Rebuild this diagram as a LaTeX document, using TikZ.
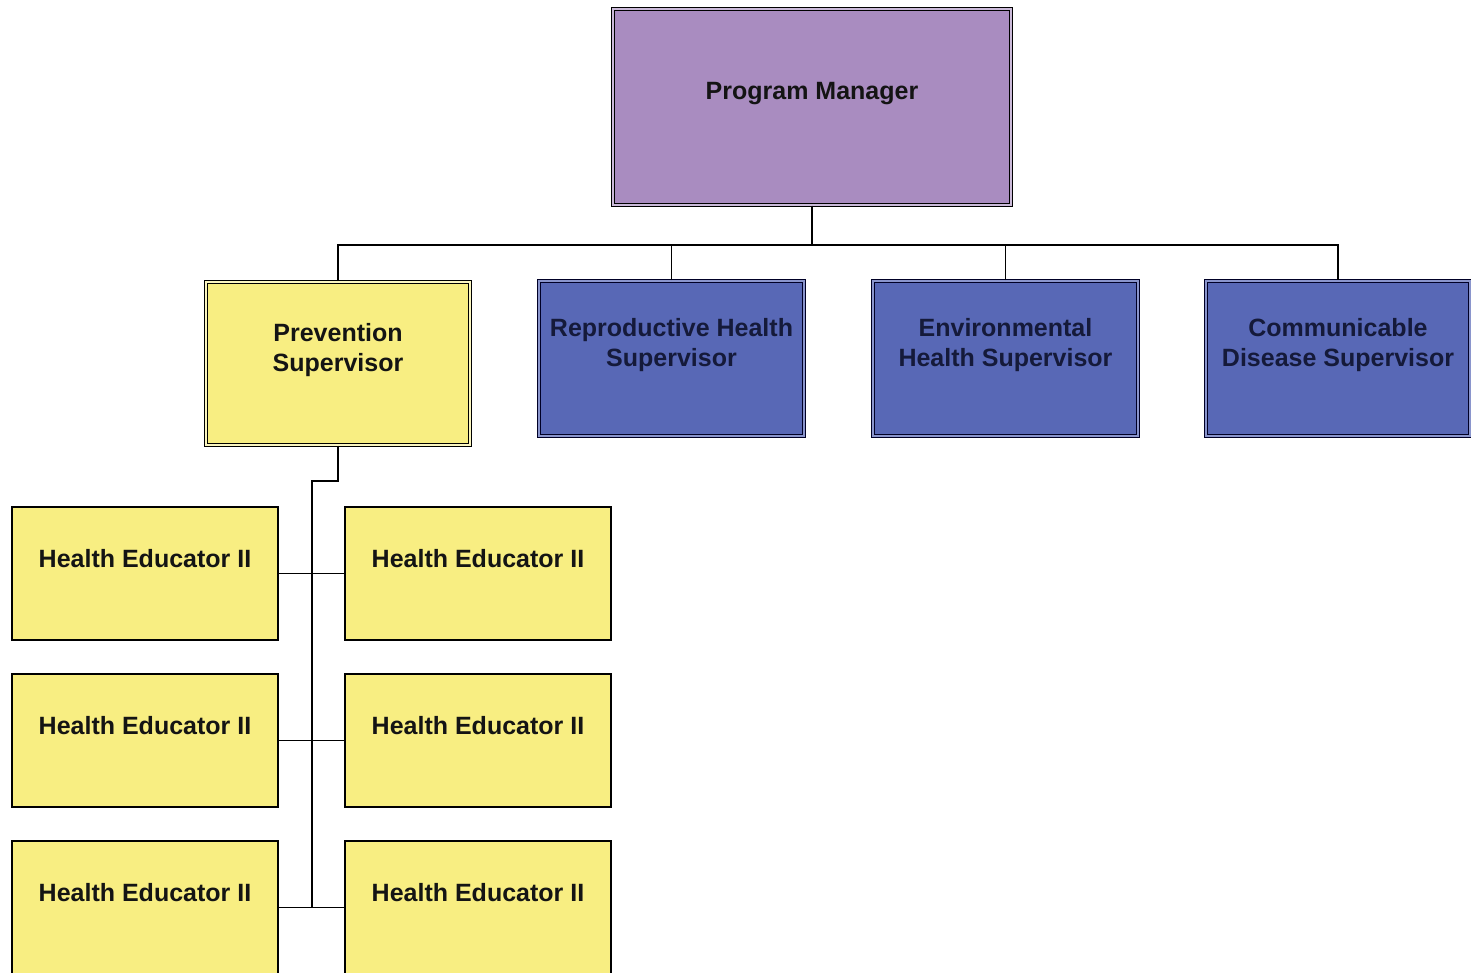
\documentclass[tikz,border=0pt]{standalone}
\usepackage{fontspec}
\setmainfont{Liberation Sans}
\definecolor{pmfill}{HTML}{A98CC0}
\definecolor{yfill}{HTML}{F8EE82}
\definecolor{bfill}{HTML}{5868B6}
\definecolor{txt}{HTML}{141414}
\definecolor{btxt}{HTML}{151A3A}
\tikzset{
  box/.style={rectangle, inner sep=0pt, draw=black, line width=1.6pt},
  dbox/.style={box, double, double distance=1.6pt, line width=1.5pt},
  lbl/.style={anchor=base, inner sep=0pt, font=\bfseries\fontsize{25}{30}\selectfont, text=txt},
  conn/.style={draw=black, line width=1.8pt},
}
\begin{document}
\begin{tikzpicture}[x=1pt,y=-1pt]
\useasboundingbox (0,0) rectangle (1471,973);
\fill[white] (0,0) rectangle (1471,973);
% top
\node[dbox, fill=pmfill, double=pmfill!60!white, minimum width=398pt, minimum height=196pt] (pm) at (812,107) {};
\node[lbl] at (812,100) {Program Manager};
% supervisors
\node[dbox, fill=yfill, double=yfill!50!white, minimum width=264pt, minimum height=163pt] (ps) at (338,363.5) {};
\node[lbl] at (338,371) {\begin{tabular}[b]{@{}c@{}}Prevention\\Supervisor\end{tabular}};
\node[dbox, fill=bfill, double=bfill!70!white, draw=black!85!blue, minimum width=265pt, minimum height=155pt] (rh) at (671.5,358.5) {};
\node[lbl, text=btxt] at (671.5,366) {\begin{tabular}[b]{@{}c@{}}Reproductive Health\\Supervisor\end{tabular}};
\node[dbox, fill=bfill, double=bfill!70!white, draw=black!85!blue, minimum width=265pt, minimum height=155pt] (eh) at (1005.5,358.5) {};
\node[lbl, text=btxt] at (1005.5,366) {\begin{tabular}[b]{@{}c@{}}Environmental\\Health Supervisor\end{tabular}};
\node[dbox, fill=bfill, double=bfill!70!white, draw=black!85!blue, minimum width=264pt, minimum height=155pt] (cd) at (1338,358.5) {};
\node[lbl, text=btxt] at (1338,366) {\begin{tabular}[b]{@{}c@{}}Communicable\\Disease Supervisor\end{tabular}};
% health educators
\foreach \n/\x/\y in {he1/145/573.5, he2/478/573.5, he3/145/740.5, he4/478/740.5, he5/145/907.5, he6/478/907.5}{
  \node[box, fill=yfill, minimum width=266pt, minimum height=133pt] (\n) at (\x,\y) {};
  \node[lbl] at (\x,\y-6.5) {Health Educator II};
}
% connectors
\coordinate (bus) at (812,245);
\draw[conn] (pm.south) -- (bus);
\draw[conn] (ps.north) |- (bus) -| (cd.north);
\draw[conn] (rh.north) -- (rh.north |- bus);
\draw[conn] (eh.north) -- (eh.north |- bus);
\coordinate (spine) at (312,481);
\draw[conn] (ps.south) |- (spine) -- (spine |- he5.east);
\draw[conn] (he1.east) -- (he2.west);
\draw[conn] (he3.east) -- (he4.west);
\draw[conn] (he5.east) -- (he6.west);
\end{tikzpicture}
\end{document}
